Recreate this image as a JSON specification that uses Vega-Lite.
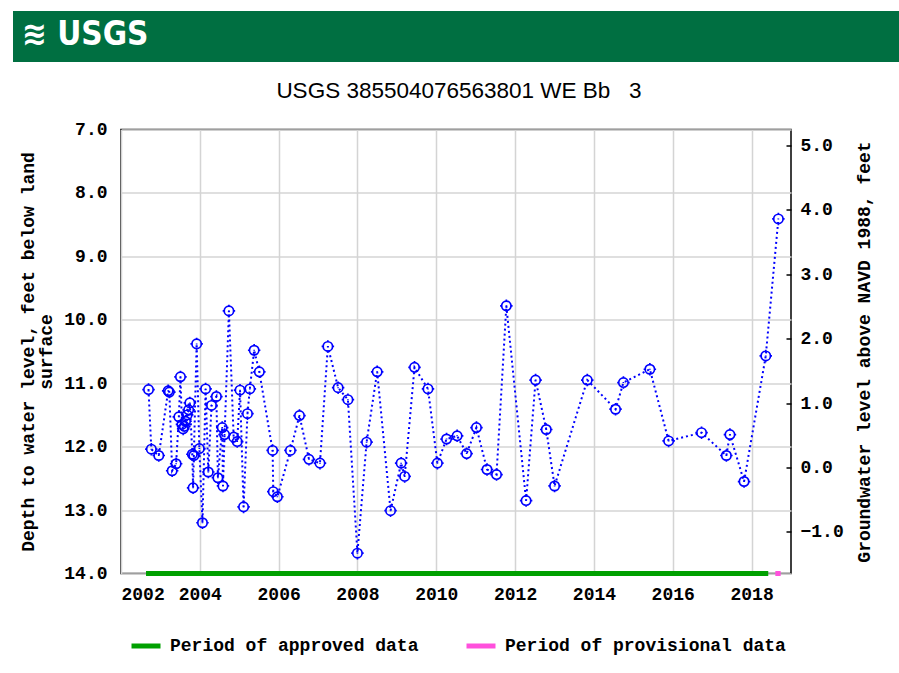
{
  "$schema": "https://vega.github.io/schema/vega-lite/v6.json",
  "padding": {"left": 13, "top": 11, "right": 0, "bottom": 0},
  "background": "white",
  "spacing": 16.5,
  "config": {
    "view": {"stroke": "black", "strokeWidth": 1.5},
    "axis": {
      "labelFont": "Liberation Mono", "labelFontSize": 18, "labelFontWeight": "bold", "labelColor": "black",
      "titleFont": "Liberation Mono", "titleFontSize": 18, "titleFontWeight": "bold", "titleColor": "black",
      "gridColor": "#d4d4d4", "gridWidth": 1.5, "domain": false, "ticks": false
    }
  },
  "vconcat": [
    {
      "width": 886,
      "height": 51,
      "view": {"fill": "#006f41", "stroke": null},
      "title": {
        "text": "≋\u00a0USGS", "anchor": "start", "frame": "group", "orient": "bottom", "offset": -43,
        "baseline": "top", "color": "white", "font": "DejaVu Sans Condensed, DejaVu Sans",
        "fontSize": 33, "fontWeight": "bold", "dx": 9
      },
      "data": {"values": [{"logo": "USGS"}]},
      "mark": {"type": "rect", "color": "#006f41"},
      "encoding": {}
    },
    {
      "spacing": 4,
      "hconcat": [
        {
          "width": 1,
          "height": 1,
          "view": {"stroke": null},
          "data": {"values": []},
          "mark": "rect",
          "encoding": {}
        },
        {
          "width": 670,
          "height": 444,
          "title": {
            "text": "USGS 385504076563801 WE Bb\u00a0\u00a0\u00a03", "font": "Liberation Sans", "fontSize": 22.5,
            "fontWeight": "normal", "color": "black", "anchor": "middle", "frame": "group",
            "baseline": "alphabetic", "offset": 0, "dx": 3
          },
          "layer": [
            {
              "data": {"values": [
                {"date":"2002-09-13","depth":11.10},
                {"date":"2002-10-09","depth":12.04},
                {"date":"2002-12-17","depth":12.14},
                {"date":"2003-03-14","depth":11.12},
                {"date":"2003-03-25","depth":11.14},
                {"date":"2003-04-20","depth":12.38},
                {"date":"2003-05-27","depth":12.27},
                {"date":"2003-06-21","depth":11.53},
                {"date":"2003-07-06","depth":10.90},
                {"date":"2003-07-20","depth":11.65},
                {"date":"2003-07-31","depth":11.72},
                {"date":"2003-08-11","depth":11.68},
                {"date":"2003-08-22","depth":11.60},
                {"date":"2003-09-06","depth":11.50},
                {"date":"2003-09-20","depth":11.42},
                {"date":"2003-10-01","depth":11.31},
                {"date":"2003-10-24","depth":12.12},
                {"date":"2003-10-31","depth":12.65},
                {"date":"2003-11-07","depth":12.14},
                {"date":"2003-12-03","depth":10.38},
                {"date":"2003-12-28","depth":12.03},
                {"date":"2004-01-26","depth":13.20},
                {"date":"2004-02-24","depth":11.09},
                {"date":"2004-03-20","depth":12.40},
                {"date":"2004-04-19","depth":11.35},
                {"date":"2004-06-03","depth":11.21},
                {"date":"2004-06-17","depth":12.49},
                {"date":"2004-07-27","depth":11.70},
                {"date":"2004-08-03","depth":12.62},
                {"date":"2004-08-18","depth":11.81},
                {"date":"2004-09-27","depth":9.86},
                {"date":"2004-11-10","depth":11.85},
                {"date":"2004-12-13","depth":11.92},
                {"date":"2005-01-08","depth":11.11},
                {"date":"2005-02-10","depth":12.95},
                {"date":"2005-03-18","depth":11.48},
                {"date":"2005-04-09","depth":11.09},
                {"date":"2005-05-19","depth":10.48},
                {"date":"2005-07-06","depth":10.82},
                {"date":"2005-11-06","depth":12.06},
                {"date":"2005-11-12","depth":12.71},
                {"date":"2005-12-20","depth":12.79},
                {"date":"2006-04-20","depth":12.06},
                {"date":"2006-07-13","depth":11.51},
                {"date":"2006-10-09","depth":12.20},
                {"date":"2007-01-19","depth":12.26},
                {"date":"2007-04-02","depth":10.42},
                {"date":"2007-07-06","depth":11.07},
                {"date":"2007-10-05","depth":11.26},
                {"date":"2008-01-01","depth":13.68},
                {"date":"2008-03-26","depth":11.93},
                {"date":"2008-07-02","depth":10.82},
                {"date":"2008-11-03","depth":13.01},
                {"date":"2009-02-09","depth":12.26},
                {"date":"2009-03-14","depth":12.47},
                {"date":"2009-06-13","depth":10.75},
                {"date":"2009-10-16","depth":11.09},
                {"date":"2010-01-11","depth":12.26},
                {"date":"2010-04-06","depth":11.88},
                {"date":"2010-07-13","depth":11.83},
                {"date":"2010-10-09","depth":12.11},
                {"date":"2011-01-08","depth":11.70},
                {"date":"2011-04-16","depth":12.36},
                {"date":"2011-07-13","depth":12.44},
                {"date":"2011-10-12","depth":9.78},
                {"date":"2012-04-12","depth":12.85},
                {"date":"2012-07-09","depth":10.95},
                {"date":"2012-10-16","depth":11.73},
                {"date":"2013-01-01","depth":12.62},
                {"date":"2013-10-31","depth":10.95},
                {"date":"2014-07-20","depth":11.41},
                {"date":"2014-10-01","depth":10.99},
                {"date":"2015-06-03","depth":10.78},
                {"date":"2015-11-24","depth":11.91},
                {"date":"2016-09-24","depth":11.78},
                {"date":"2017-05-12","depth":12.14},
                {"date":"2017-06-14","depth":11.81},
                {"date":"2017-10-23","depth":12.55},
                {"date":"2018-05-12","depth":10.57},
                {"date":"2018-09-06","depth":8.41}
              ]},
              "encoding": {
                "x": {
                  "field": "date", "type": "temporal", "title": null,
                  "scale": {"type": "utc", "nice": false, "domain": [
                    {"year": 2002, "month": 1, "date": 1, "utc": true},
                    {"year": 2019, "month": 1, "date": 1, "utc": true}
                  ]},
                  "axis": {
                    "values": [
                      {"year": 2002, "utc": true}, {"year": 2004, "utc": true}, {"year": 2006, "utc": true},
                      {"year": 2008, "utc": true}, {"year": 2010, "utc": true}, {"year": 2012, "utc": true},
                      {"year": 2014, "utc": true}, {"year": 2016, "utc": true}, {"year": 2018, "utc": true}
                    ],
                    "format": "%Y", "grid": true, "labelPadding": 12, "labelAngle": 0
                  }
                }
              },
              "layer": [
                {
                  "mark": {"type": "line", "color": "#0000ff", "strokeDash": [2, 3], "strokeWidth": 2},
                  "encoding": {
                    "y": {
                      "field": "depth", "type": "quantitative",
                      "title": ["Depth to water level, feet below land", "surface"],
                      "scale": {"domain": [7, 14], "reverse": true, "nice": false, "zero": false},
                      "axis": {
                        "orient": "left", "values": [7, 8, 9, 10, 11, 12, 13, 14], "format": ".1f",
                        "grid": true, "labelPadding": 14, "titlePadding": 8.5, "titleLineHeight": 18
                      }
                    }
                  }
                },
                {
                  "mark": {
                    "type": "point", "filled": false, "color": "#0000ff", "strokeWidth": 1.7, "opacity": 1, "size": 156,
                    "shape": "M0.75,0A0.75,0.75,0,1,1,-0.75,0A0.75,0.75,0,1,1,0.75,0ZM0,-1L0,-0.75M0,0.75L0,1M-1,0L-0.75,0M0.75,0L1,0M0,-0.08L0,0.08"
                  },
                  "encoding": {"y": {"field": "depth", "type": "quantitative"}}
                },
                {
                  "data": {"values": [
                    {"period": "Period of approved data", "start": "2002-09-13", "end": "2018-05-12"},
                    {"period": "Period of provisional data", "start": "2018-09-01", "end": "2018-09-04"}
                  ]},
                  "mark": {"type": "rule", "strokeWidth": 5, "strokeCap": "square"},
                  "encoding": {
                    "x": {"field": "start", "type": "temporal"},
                    "x2": {"field": "end"},
                    "y": {"datum": 14, "type": "quantitative"},
                    "color": {
                      "field": "period", "type": "nominal",
                      "scale": {"domain": ["Period of approved data", "Period of provisional data"], "range": ["#00a000", "#ff50dc"]},
                      "legend": {
                        "orient": "none", "legendX": 116, "legendY": 618, "direction": "horizontal", "columns": 2,
                        "title": null, "symbolType": "stroke", "symbolSize": 841, "symbolStrokeWidth": 5,
                        "labelFont": "Liberation Mono", "labelFontSize": 18, "labelFontWeight": "bold",
                        "labelColor": "black", "labelOffset": 7, "columnPadding": 37, "labelLimit": 400
                      }
                    }
                  }
                }
              ]
            },
            {
              "data": {"values": [{"gw": 0}]},
              "mark": {"type": "rule", "opacity": 0},
              "encoding": {
                "y": {
                  "field": "gw", "type": "quantitative", "title": "Groundwater level above NAVD 1988, feet",
                  "scale": {"domain": [-1.644, 5.244], "nice": false, "zero": false},
                  "axis": {
                    "orient": "right", "values": [-1, 0, 1, 2, 3, 4, 5], "format": ".1f", "grid": false,
                    "ticks": true, "tickSize": -5, "tickColor": "black", "tickWidth": 1.5,
                    "labelPadding": 14, "titleAngle": -90, "titleBaseline": "top", "titlePadding": 12
                  }
                }
              }
            }
          ],
          "resolve": {"scale": {"y": "independent"}}
        }
      ]
    }
  ]
}
